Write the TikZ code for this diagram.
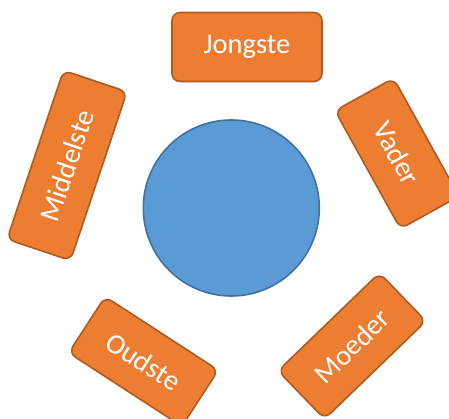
\documentclass[tikz,border=0pt]{standalone}
\usepackage{fontspec}
\setmainfont{Carlito}
\definecolor{boxfill}{HTML}{ED7D31}
\definecolor{boxline}{HTML}{AE5A21}
\definecolor{circfill}{HTML}{5B9BD5}
\definecolor{circline}{HTML}{41719C}
\begin{document}
\begin{tikzpicture}[x=1pt,y=1pt,
  member/.style={draw=boxline, fill=boxfill, line width=1.6pt, rounded corners=8pt,
    rectangle, minimum height=67pt, inner sep=0pt, text=white,
    font=\fontsize{28.5}{32}\selectfont},
  table/.style={circle, draw=circline, fill=circfill, line width=1.6pt,
    minimum size=176pt, inner sep=0pt}]
\useasboundingbox (0,0) rectangle (449,419);
\clip (0,0) rectangle (449,419);
\node[table] (tafel) at (231.3,211) {};
\node[member, minimum width=150pt, minimum height=69pt] (jongste) at (247,372) {Jongste};
\node[member, minimum width=135pt, rotate=-61] (vader) at (397,265.5) {Vader};
\node[member, minimum width=141pt, rotate=44] (moeder) at (352,73) {Moeder};
\node[member, minimum width=135pt, rotate=-33] (oudste) at (143.5,57.5) {Oudste};
\node[member, minimum width=178pt, rotate=71.5] (middelste) at (67,253.5) {Middelste};
\end{tikzpicture}
\end{document}
